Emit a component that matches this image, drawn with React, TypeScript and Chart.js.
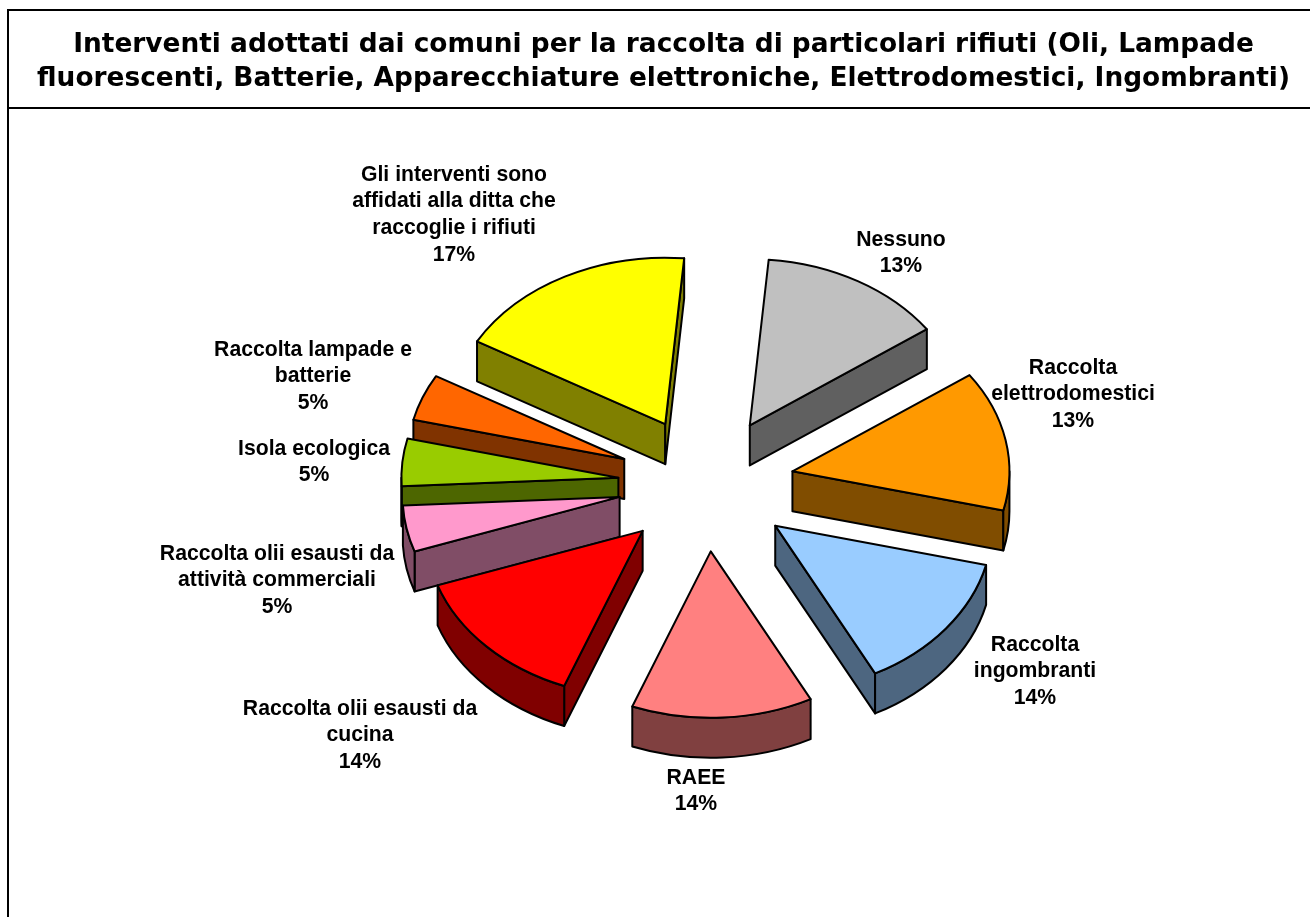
import React, { useEffect, useRef } from "react";
import { Chart, registerables } from "chart.js";

Chart.register(...registerables);

const categories = [
  ["Nessuno"],
  ["Raccolta", "elettrodomestici"],
  ["Raccolta", "ingombranti"],
  ["RAEE"],
  ["Raccolta olii esausti da", "cucina"],
  ["Raccolta olii esausti da", "attività commerciali"],
  ["Isola ecologica"],
  ["Raccolta lampade e", "batterie"],
  ["Gli interventi sono", "affidati alla ditta che", "raccoglie i rifiuti"],
];
const sliceValues = [13.8, 13.6, 13.6, 13.5, 13.8, 4.5, 4.6, 4.5, 18.1];
const percentLabels = ["13%", "13%", "14%", "14%", "14%", "5%", "5%", "5%", "17%"];
const sliceColors = ["#C0C0C0", "#FF9900", "#99CCFF", "#FF8080", "#FF0000", "#FF99CC", "#99CC00", "#FF6600", "#FFFF00"];
const wallColors = ["#606060", "#804D00", "#4D6680", "#804040", "#800000", "#804D66", "#4D6600", "#803300", "#808000"];
const titleLines = [
  "Interventi adottati dai comuni per la raccolta di particolari rifiuti (Oli, Lampade",
  "fluorescenti, Batterie, Apparecchiature elettroniche, Elettrodomestici, Ingombranti)",
];

// label block centres on the page (x, y of first line)
const labelAnchors = [
  [901, 240], [1073, 368], [1035, 645], [696, 778], [360, 709], [277, 554], [314, 449], [313, 350], [454, 175],
];
const drawOrder = [0, 8, 7, 6, 5, 4, 1, 2, 3];

const TILT = 0.767;
const THICKNESS = 40;
const EXPLODE = 88;
const RADIUS = 217;
const TWO_PI = Math.PI * 2;

const pie3d = {
  id: "pie3d",
  beforeDraw(chart: any) {
    const { ctx, width } = chart;
    ctx.save();
    ctx.strokeStyle = "#000";
    ctx.lineWidth = 2;
    ctx.beginPath();
    ctx.moveTo(8, 918);
    ctx.lineTo(8, 10);
    ctx.lineTo(width + 2, 10);
    ctx.moveTo(8, 108);
    ctx.lineTo(width + 2, 108);
    ctx.stroke();
    ctx.restore();
  },
  beforeDatasetsDraw(chart: any) {
    const { ctx } = chart;
    const meta = chart.getDatasetMeta(0);
    drawOrder.forEach((i) => {
      const arc = meta.data[i];
      const { x, y, startAngle: a0, endAngle: a1, outerRadius: r } = arc.getProps(["x", "y", "startAngle", "endAngle", "outerRadius"], true);
      const mid = (a0 + a1) / 2;
      const cx = x + Math.cos(mid) * EXPLODE;
      const cy = y + Math.sin(mid) * EXPLODE * TILT;
      const px = (a: number) => cx + Math.cos(a) * r;
      const py = (a: number) => cy + Math.sin(a) * r * TILT;

      ctx.save();
      ctx.lineWidth = 2;
      ctx.lineJoin = "round";
      ctx.strokeStyle = "#000";
      const paint = (fill: string) => {
        ctx.fillStyle = fill;
        ctx.fill();
        ctx.stroke();
      };
      const wall = (a: number) => {
        ctx.beginPath();
        ctx.moveTo(cx, cy);
        ctx.lineTo(px(a), py(a));
        ctx.lineTo(px(a), py(a) + THICKNESS);
        ctx.lineTo(cx, cy + THICKNESS);
        ctx.closePath();
        paint(wallColors[i]);
      };
      // radial walls that face the viewer
      if (Math.cos(a0) < 0) wall(a0);
      if (Math.cos(a1) > 0) wall(a1);
      // curved outer wall: the part on the lower half of the ellipse
      const norm = (a: number) => ((a % TWO_PI) + TWO_PI) % TWO_PI;
      const s = norm(a0);
      const e = s + (a1 - a0);
      const ranges: number[][] = [
        [Math.max(s, 0), Math.min(e, Math.PI)],
        [Math.max(s, TWO_PI), Math.min(e, TWO_PI + Math.PI)],
      ];
      ranges.forEach(([u, v]) => {
        if (v <= u) return;
        ctx.beginPath();
        ctx.ellipse(cx, cy, r, r * TILT, 0, u, v, false);
        ctx.ellipse(cx, cy + THICKNESS, r, r * TILT, 0, v, u, true);
        ctx.closePath();
        paint(wallColors[i]);
      });
      // top face
      ctx.beginPath();
      ctx.moveTo(cx, cy);
      ctx.ellipse(cx, cy, r, r * TILT, 0, a0, a1, false);
      ctx.closePath();
      paint(sliceColors[i]);
      ctx.restore();
    });
    return false;
  },
  afterDraw(chart: any) {
    const { ctx } = chart;
    ctx.save();
    ctx.fillStyle = "#000";
    ctx.textAlign = "center";
    ctx.textBaseline = "middle";
    ctx.font = "bold 26.4px 'DejaVu Sans'";
    titleLines.forEach((t, j) => ctx.fillText(t, 663.5, 45 + j * 34));
    ctx.font = "bold 21.2px 'Liberation Sans'";
    categories.forEach((lines, i) => {
      const [x, y] = labelAnchors[i];
      [...lines, percentLabels[i]].forEach((t, j) => ctx.fillText(t, x, y + j * 26.6));
    });
    ctx.restore();
  },
};

export default function App() {
  const ref = useRef<HTMLCanvasElement>(null);
  useEffect(() => {
    document.body.style.margin = "0";
    document.body.style.background = "#fff";
    const chart = new Chart(ref.current!, {
      type: "pie",
      data: {
        labels: categories.map((c) => c.join(" ")),
        datasets: [{ data: sliceValues, backgroundColor: sliceColors, borderColor: "#000", borderWidth: 2, radius: RADIUS }],
      } as any,
      options: {
        animation: false,
        responsive: false,
        rotation: 5,
        layout: { padding: { left: 102, top: 51 } },
        plugins: {
          legend: { display: false },
          tooltip: { enabled: false },
        },
      } as any,
      plugins: [pie3d as any],
    });
    return () => chart.destroy();
  }, []);
  return <canvas ref={ref} width={1310} height={917} style={{ display: "block" }} />;
}
